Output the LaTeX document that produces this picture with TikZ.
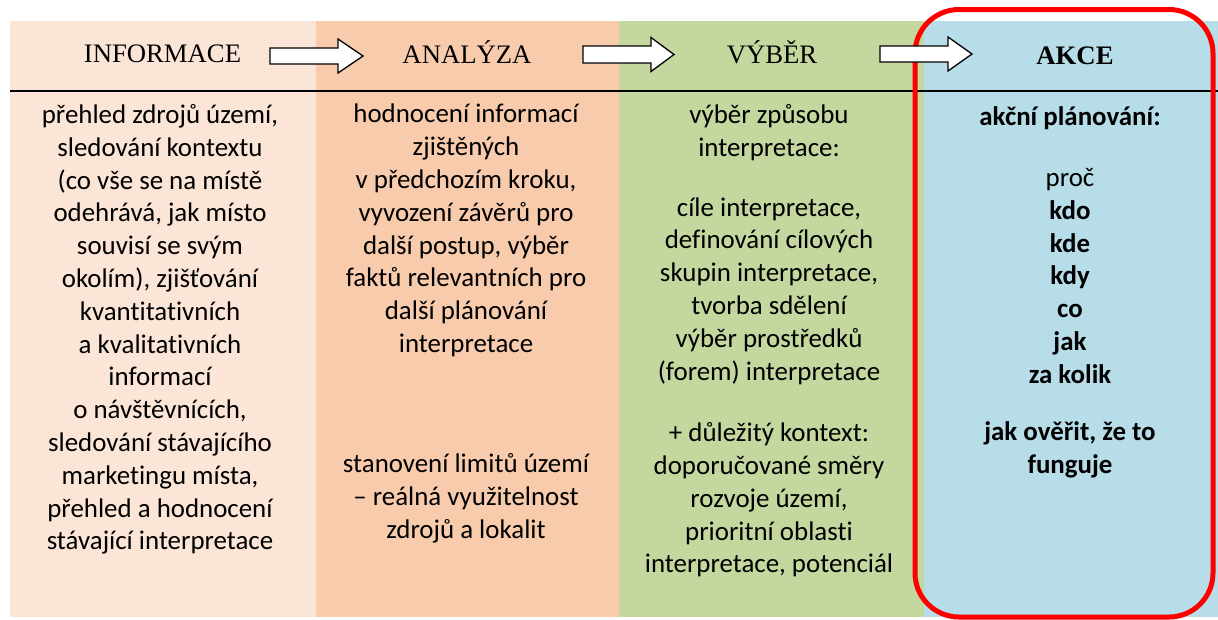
\documentclass[tikz,border=0pt]{standalone}
\usepackage{fontspec}
\setmainfont{Carlito}[Ligatures={NoCommon}]
\newfontfamily\hdrfont{Liberation Serif}
\definecolor{cinfo}{HTML}{FBE5D6}
\definecolor{canal}{HTML}{F8CBAD}
\definecolor{cvyb}{HTML}{C4D79F}
\definecolor{cakce}{HTML}{B7DDE8}
\definecolor{cred}{HTML}{FF0000}
\tikzset{
  body/.style={align=center, inner sep=0pt, text=black,
    font=\fontsize{26.9}{32.8}\selectfont},
  hdr/.style={anchor=base, inner sep=0pt, text=black,
    font=\hdrfont\fontsize{26.7}{30}\selectfont},
  blockarr/.style={fill=white, draw=black, line width=1.3pt, line join=miter},
  rule/.style={draw=black, line width=2pt},
  frame/.style={draw=cred, line width=5pt, rounded corners=44pt}
}
\newcommand{\blockarrow}[6]{% x1 x2 xhead ycenter bodyhalf headhalf
  \draw[blockarr] (#1,#4-#5) -- (#3,#4-#5) -- (#3,#4-#6) -- (#2,#4) -- (#3,#4+#6) -- (#3,#4+#5) -- (#1,#4+#5) -- cycle;}
\begin{document}
\begin{tikzpicture}[x=1pt,y=-1pt]
\useasboundingbox (0,0) rectangle (1218,619);
% columns
\fill[cinfo] (10,21) rectangle (316,617);
\fill[canal] (316,21) rectangle (619,617);
\fill[cvyb] (619,21) rectangle (924,617);
\fill[cakce] (924,21) rectangle (1218,617);
% rule under header
\coordinate (rl) at (10,91);
\coordinate (rr) at (1218,91);
\draw[rule] (rl) -- (rr);
% headers
\node[hdr] (h1) at (162.5,62.5) {INFORMACE};
\node[hdr] (h2) at (467,63) {ANALÝZA};
\node[hdr] (h3) at (772,63) {VÝBĚR};
\node[hdr, font=\hdrfont\bfseries\fontsize{26.7}{30}\selectfont] (h4) at (1075,64) {AKCE};
% red frame
\draw[frame] (915,9.5) rectangle (1213,617);
% arrows
\blockarrow{270}{363}{338}{56}{8}{17}
\blockarrow{583}{674}{651}{54.5}{8.5}{17}
\blockarrow{880}{972}{948}{54}{8}{17}
% column 1
\node[body] (c1) at (160,329.5) {přehled zdrojů území,\\ sledování kontextu\\ (co vše se na místě\\ odehrává, jak místo\\ souvisí se svým\\ okolím), zjišťování\\ kvantitativních\\ a kvalitativních\\ informací\\ o návštěvnících,\\ sledování stávajícího\\ marketingu místa,\\ přehled a hodnocení\\ stávající interpretace};
% column 2
\node[body] (c2a) at (466,230.5) {hodnocení informací\\ zjištěných\\ v předchozím kroku,\\ vyvození závěrů pro\\ další postup, výběr\\ faktů relevantních pro\\ další plánování\\ interpretace};
\node[body] (c2b) at (466,498) {stanovení limitů území\\ – reálná využitelnost\\ zdrojů a lokalit};
% column 3
\node[body] (c3a) at (769,133) {výběr způsobu\\ interpretace:};
\node[body] (c3b) at (769,291) {cíle interpretace,\\ definování cílových\\ skupin interpretace,\\ tvorba sdělení\\ výběr prostředků\\ (forem) interpretace};
\node[body] (c3c) at (769,500) {+ důležitý kontext:\\ doporučované směry\\ rozvoje území,\\ prioritní oblasti\\ interpretace, potenciál};
% column 4
\node[body, font=\bfseries\fontsize{26.9}{32.8}\selectfont] (c4a) at (1070,118) {akční plánování:};
\node[body] (c4b) at (1070,276) {proč\\ \textbf{kdo}\\ \textbf{kde}\\ \textbf{kdy}\\ \textbf{co}\\ \textbf{jak}\\ \textbf{za kolik}};
\node[body, font=\bfseries\fontsize{26.9}{32.8}\selectfont] (c4c) at (1070,450) {jak ověřit, že to\\ funguje};
\end{tikzpicture}
\end{document}
